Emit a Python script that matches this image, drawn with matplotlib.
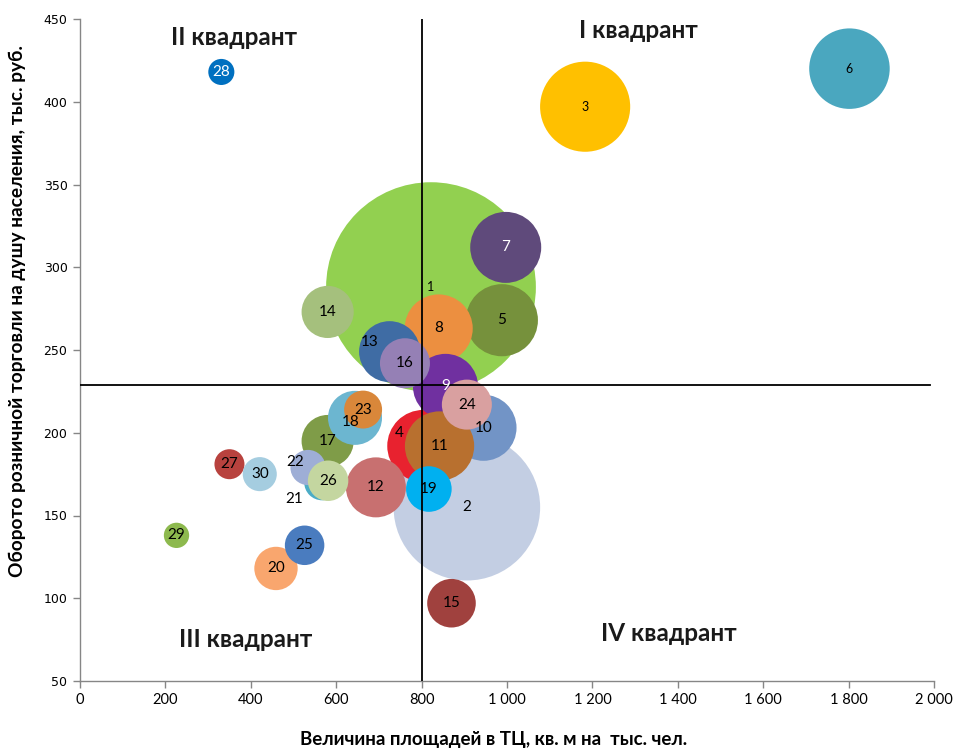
import matplotlib
matplotlib.use("Agg")
import matplotlib.pyplot as plt
import numpy as np

# ---- data ----
ids = list(range(1, 31))
area_x = [822, 906, 1183, 804, 988, 1802, 997, 840, 856, 945,
          842, 693, 725, 580, 870, 761, 580, 644, 817, 459,
          567, 534, 663, 906, 526, 581, 350, 331, 226, 421]
turnover_y = [288, 155, 397, 192, 268, 420, 312, 263, 228, 203,
              192, 167, 249, 273, 97, 242, 195, 209, 166, 118,
              170, 179, 214, 217, 132, 171, 181, 418, 138, 175]
bubble_size = [110, 53.7, 20.3, 13.0, 13.0, 16.2, 12.6, 11.6, 10.6, 10.9,
               12.0, 9.0, 9.3, 6.8, 5.9, 6.25, 6.8, 7.3, 5.2, 4.7,
               3.2, 3.1, 3.6, 6.25, 3.9, 4.1, 2.25, 1.7, 1.6, 2.9]
colors = ["#92D050", "#C3CEE3", "#FFC000", "#E8222F", "#76913C", "#4AA7BF",
          "#5F4A7B", "#EC8F40", "#7030A0", "#7294C6", "#B8702F", "#C87070",
          "#3F6CA4", "#A5C07D", "#A0413E", "#9580B5", "#7F9C48", "#6CB6D0",
          "#00B0F0", "#F9A66E", "#4BACC6", "#9EAED6", "#D9873A", "#D9A0A0",
          "#4A7CBF", "#C4D6A0", "#B8423E", "#0070C0", "#8DB94E", "#A5CDE0"]
label_colors = {7: "white", 9: "white", 28: "white"}
label_offsets = {4: (-17, 9), 13: (-14, 7), 22: (-9, 4), 21: (-20, -12), 18: (-3, -3)}
small_labels = {1, 3, 6}

x_ticks = [0, 200, 400, 600, 800, 1000, 1200, 1400, 1600, 1800, 2000]
x_tick_labels = ["0", "200", "400", "600", "800", "1 000", "1 200", "1 400", "1 600", "1 800", "2 000"]
y_ticks = [50, 100, 150, 200, 250, 300, 350, 400, 450]
x_split = 800
y_split = 229

quadrants = [("I квадрант", 1307, 443), ("II квадрант", 360, 439),
             ("III квадрант", 387, 75), ("IV квадрант", 1380, 79)]

x_title = "Величина площадей в ТЦ, кв. м на  тыс. чел."
y_title = "Оборото розничной торговли на душу населения, тыс. руб."

# ---- plot ----
fig = plt.figure(figsize=(9.57, 7.5), dpi=100)
ax = fig.add_axes([80 / 957, 1 - 681 / 750, 854 / 957, 662 / 750])
ax.set_xlim(0, 2000)
ax.set_ylim(50, 450)

dpi = fig.dpi
sizes_pt2 = [(20 * np.sqrt(s) * 72 / dpi) ** 2 for s in bubble_size]
for i in range(len(ids)):
    ax.scatter(area_x[i], turnover_y[i], s=sizes_pt2[i], c=colors[i],
               edgecolors="none", zorder=2 + i * 0.01)
for i, n in enumerate(ids):
    off = label_offsets.get(n, (0, 0))
    ax.annotate(str(n), (area_x[i], turnover_y[i]), xytext=off,
                textcoords="offset points", ha="center", va="center",
                fontsize=9 if n in small_labels else 11, family="Lato",
                color=label_colors.get(n, "black"), zorder=5)

ax.axvline(x_split, color="black", lw=1.3, zorder=4)
ax.plot([0, 1990], [y_split, y_split], color="black", lw=1.3, zorder=4)

for txt, qx, qy in quadrants:
    ax.text(qx, qy, txt, ha="center", va="center", fontsize=17.5,
            fontweight="bold", family="Lato", color="#1a1a1a", zorder=6)

for side in ["top", "right"]:
    ax.spines[side].set_visible(False)
for side in ["left", "bottom"]:
    ax.spines[side].set_color("#868686")
    ax.spines[side].set_linewidth(1.0)

ax.set_xticks(x_ticks)
ax.set_xticklabels(x_tick_labels, family="Lato", fontsize=10.5)
ax.set_yticks(y_ticks)
ax.set_yticklabels([str(v) for v in y_ticks], family="DejaVu Sans", fontsize=9)
ax.tick_params(direction="out", length=5, color="#868686", width=1.0, pad=4)

fig.text(494 / 957, 1 - 739 / 750, x_title, family="Lato", fontsize=13.5,
         fontweight="bold", ha="center", va="center")
fig.text(17 / 957, 1 - 311 / 750, y_title, family="Lato", fontsize=13.8,
         fontweight="bold", ha="center", va="center", rotation=90)

fig.savefig("out.png", dpi=100, facecolor="white")
